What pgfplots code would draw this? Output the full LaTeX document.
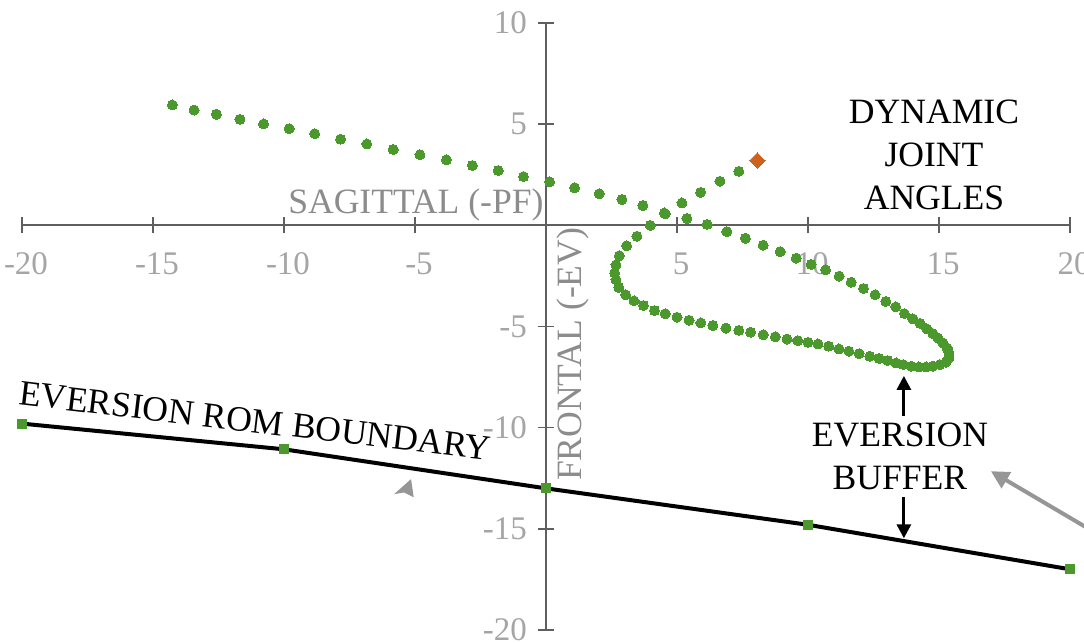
\documentclass[border=0pt]{standalone}
\usepackage{fontspec}
\setmainfont{Liberation Serif}
\usepackage{pgfplots}
\pgfplotsset{compat=1.18}
\usetikzlibrary{arrows.meta}

\definecolor{dotgreen}{RGB}{75,152,45}
\definecolor{endorange}{RGB}{204,98,28}
\definecolor{axisgray}{RGB}{95,95,95}
\definecolor{ticklab}{RGB}{165,165,165}
\definecolor{titlegray}{RGB}{140,140,140}
\definecolor{arrowgray}{RGB}{150,150,150}

\begin{document}
\begin{tikzpicture}
\path[use as bounding box] (-11pt,-6.5pt) rectangle (531pt,315pt);
\begin{axis}[
  at={(0,0)}, anchor=south west,
  scale only axis, width=524pt, height=303.5pt,
  xmin=-20, xmax=20, ymin=-20, ymax=10,
  axis lines=middle,
  axis line style={-, draw=axisgray, line width=1pt},
  every inner x axis line/.append style={-},
  every inner y axis line/.append style={-},
  xtick={-20,-15,-10,-5,5,10,15,20},
  xticklabels={-20,-15,-10,-5,5,10,15,20},
  ytick={-20,-15,-10,-5,5,10},
  yticklabels={-20,-15,-10,-5,5,10},
  tick align=center, major tick length=8pt,
  tick style={draw=axisgray, line width=0.8pt},
  tick label style={font=\fontsize{16.5}{16.5}\selectfont, text=ticklab},
  xticklabel style={anchor=north, yshift=-6pt, xshift=2pt},
  yticklabel style={anchor=east, xshift=-2pt},
  clip=false,
]

% ankle joint trajectory (sagittal vs frontal angle)
\addplot[only marks, mark=*, mark size=2.5pt, color=dotgreen,
  mark options={draw=dotgreen, line width=0pt, fill=dotgreen}]
coordinates {
(-14.26,5.95) (-13.43,5.70) (-12.58,5.49) (-11.68,5.24) (-10.78,5.01)
(-9.80,4.78) (-8.83,4.53) (-7.84,4.26) (-6.84,4.02) (-5.83,3.75)
(-4.81,3.49) (-3.80,3.24) (-2.81,2.96) (-1.82,2.71) (-0.86,2.41)
(0.14,2.15) (1.09,1.86) (2.03,1.56) (2.90,1.28) (3.70,0.98)
(4.55,0.57) (5.38,0.34) (6.15,0.05) (6.90,-0.31) (7.61,-0.64)
(8.29,-0.98) (8.94,-1.30) (9.55,-1.62) (10.12,-1.93) (10.67,-2.20)
(11.19,-2.51) (11.65,-2.81) (12.12,-3.12) (12.56,-3.43) (12.97,-3.76)
(13.35,-4.03) (13.68,-4.36) (14.00,-4.62) (14.28,-4.85) (14.54,-5.12)
(14.77,-5.35) (14.96,-5.56) (15.15,-5.81) (15.31,-6.06) (15.38,-6.30)
(15.38,-6.55) (15.26,-6.77) (15.03,-6.88) (14.77,-6.96) (14.51,-7.00)
(14.23,-7.00) (13.94,-6.96) (13.64,-6.88) (13.36,-6.80) (13.04,-6.68)
(12.72,-6.58) (12.36,-6.47) (11.95,-6.34) (11.56,-6.22) (11.18,-6.11)
(10.79,-5.97) (10.38,-5.86) (10.00,-5.78) (9.61,-5.70) (9.20,-5.62)
(8.75,-5.51) (8.29,-5.41) (7.81,-5.28) (7.36,-5.19) (6.87,-5.08)
(6.37,-4.95) (5.91,-4.82) (5.46,-4.69) (5.00,-4.54) (4.55,-4.37)
(4.14,-4.21) (3.72,-3.96) (3.36,-3.73) (3.04,-3.43) (2.78,-3.07)
(2.67,-2.69) (2.62,-2.36) (2.67,-1.95) (2.80,-1.50) (3.08,-1.01)
(3.47,-0.54) (3.98,0.00) (4.52,0.61) (5.19,1.11) (5.90,1.63)
(6.64,2.18) (7.36,2.67)
};

% final sample
\addplot[only marks, mark=square*, mark size=2.75pt, color=endorange,
  mark options={rotate=45, draw=endorange, line width=0pt, fill=endorange}]
coordinates {(8.07,3.20)};

% eversion range-of-motion boundary
\addplot[black, line width=2pt, mark=square*, mark size=2.3pt,
  mark options={draw=dotgreen, line width=0pt, fill=dotgreen}]
coordinates {(-20,-9.80) (-10,-11.07) (0,-13.00) (10,-14.80) (20,-17.00)};

% axis titles
\node[anchor=base east, inner sep=0pt, text=titlegray, font=\fontsize{17.8}{21}\selectfont]
  at (axis cs:-0.08,0.58) {SAGITTAL (-PF)};
\node[anchor=base east, rotate=90, inner sep=0pt, text=titlegray, font=\fontsize{17.8}{21}\selectfont]
  at (axis cs:1.34,-0.1) {FRONTAL (-EV)};

% annotations
\node[align=center, inner sep=0pt, font=\fontsize{17.8}{21.5}\selectfont]
  at (axis cs:14.81,3.47) {DYNAMIC\\JOINT\\ANGLES};
\node[anchor=base, rotate=-6.8, inner sep=0pt, font=\fontsize{17.8}{21}\selectfont]
  at (axis cs:-11.15,-10.24) {EVERSION ROM BOUNDARY};
\node[align=center, inner sep=0pt, font=\fontsize{17.8}{21.5}\selectfont]
  at (axis cs:13.51,-11.4) {EVERSION\\BUFFER};
\draw[line width=1.5pt, -{Triangle[length=7pt,width=7pt]}]
  (axis cs:13.66,-9.42) -- (axis cs:13.66,-7.44);
\draw[line width=1.5pt, -{Triangle[length=7pt,width=7pt]}]
  (axis cs:13.66,-13.44) -- (axis cs:13.66,-15.47);

% pointers from neighbouring panels
\fill[arrowgray] (axis cs:-5.15,-12.54) -- (axis cs:-5.80,-13.29)
  -- (axis cs:-5.42,-13.20) -- (axis cs:-5.05,-13.44) -- cycle;
\draw[arrowgray, line width=2pt, -{Triangle[length=9pt,width=9pt]}]
  (axis cs:21.07,-15.27) -- (axis cs:16.98,-12.15);
\end{axis}
\end{tikzpicture}
\end{document}
